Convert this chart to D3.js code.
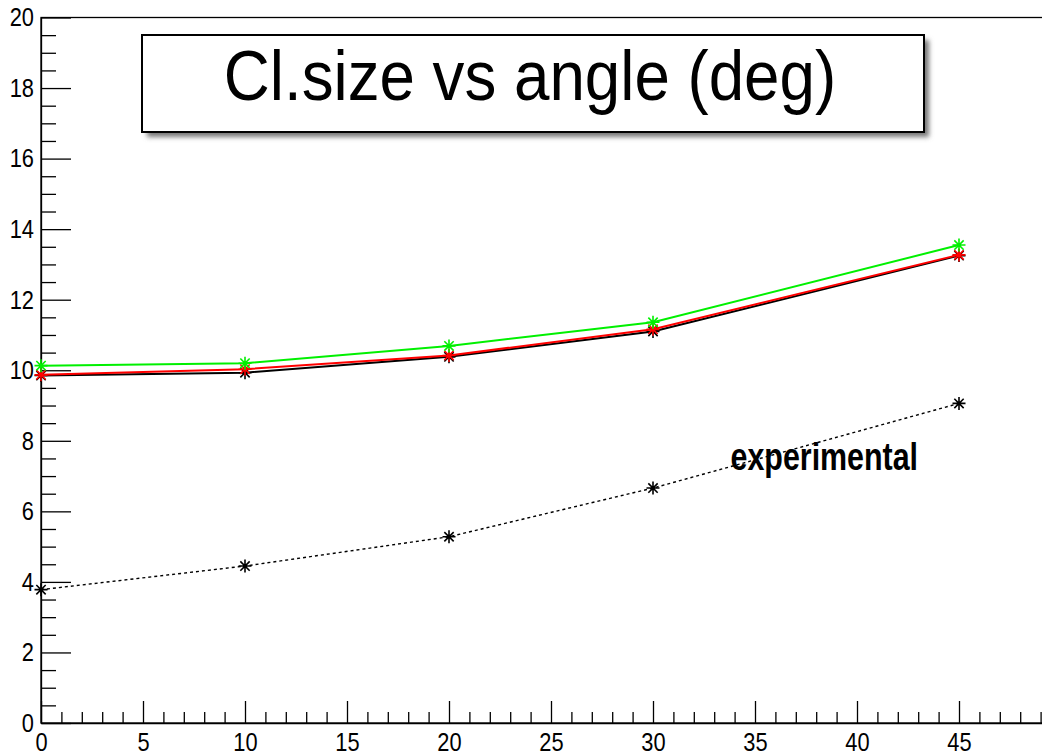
<!DOCTYPE html>
<html>
<head>
<meta charset="utf-8">
<script src="https://cdn.jsdelivr.net/npm/d3@7"></script>
<style>
  html, body { margin: 0; padding: 0; background: #fff; }
  svg { display: block; }
  text { font-family: "Liberation Sans", Arial, Helvetica, sans-serif; }
</style>
</head>
<body>
<svg id="chart" width="1042" height="755"></svg>
<script>
// Cluster size versus incidence angle
const angles = [0, 10, 20, 30, 45];
const simBlack = [9.85, 9.93, 10.38, 11.1, 13.25];
const simRed = [9.87, 10.03, 10.42, 11.16, 13.27];
const simGreen = [10.13, 10.2, 10.69, 11.36, 13.55];
const experimental = [3.78, 4.45, 5.28, 6.66, 9.06];

const xTickValues = [0, 5, 10, 15, 20, 25, 30, 35, 40, 45];
const yTickValues = [0, 2, 4, 6, 8, 10, 12, 14, 16, 18, 20];
const titleText = "Cl.size vs angle (deg)";
const noteText = "experimental";

const svg = d3.select("#chart");

const x = d3.scaleLinear().domain([0, 49.5]).range([41, 41 + 49.5 * 20.4]);
const y = d3.scaleLinear().domain([0, 20]).range([723, 17.5]);

// frame
svg.append("rect")
  .attr("x", x(0)).attr("y", y(20))
  .attr("width", x(49.5) - x(0)).attr("height", y(0) - y(20))
  .attr("fill", "none").attr("stroke", "#000").attr("stroke-width", 1.3);

// y axis: major ticks with labels, minor ticks every 0.5
const yMinor = d3.range(0, 20.001, 0.5).filter(v => Math.abs(v / 2 - Math.round(v / 2)) > 1e-6);
svg.append("g").attr("transform", `translate(${x(0)},0)`)
  .call(d3.axisLeft(y).tickValues(yMinor).tickSize(-15).tickSizeOuter(0).tickFormat(""))
  .call(g => g.select(".domain").remove());
const yAxisG = svg.append("g").attr("transform", `translate(${x(0)},0)`)
  .call(d3.axisLeft(y).tickValues(yTickValues).tickSize(-30).tickSizeOuter(0).tickPadding(7).tickFormat(d3.format("d")));

// x axis: major ticks every 5, minor every 1
const xMinor = d3.range(0, 50, 1).filter(v => v % 5 !== 0);
svg.append("g").attr("transform", `translate(0,${y(0)})`)
  .call(d3.axisBottom(x).tickValues(xMinor).tickSize(-11).tickSizeOuter(0).tickFormat(""))
  .call(g => g.select(".domain").remove());
const xAxisG = svg.append("g").attr("transform", `translate(0,${y(0)})`)
  .call(d3.axisBottom(x).tickValues(xTickValues).tickSize(-22).tickSizeOuter(0).tickPadding(10).tickFormat(d3.format("d")));

svg.selectAll(".tick line").attr("stroke", "#000").attr("stroke-width", 1.3);
svg.selectAll(".domain").attr("stroke", "#000").attr("stroke-width", 1.3);

// slightly condensed tick labels
yAxisG.selectAll(".tick text")
  .attr("font-size", 26).attr("fill", "#000")
  .attr("transform", "translate(-7,0) scale(0.84,1)").attr("x", 0);
xAxisG.selectAll(".tick text")
  .attr("font-size", 26).attr("fill", "#000")
  .attr("transform", "translate(0,10) scale(0.84,1)").attr("y", 0);

// graphs
const line = d3.line().x((d, i) => x(angles[i])).y(d => y(d));
const starPath = r => `M${-r},0L${r},0M0,${-r}L0,${r}M${-r*0.72},${-r*0.72}L${r*0.72},${r*0.72}M${-r*0.72},${r*0.72}L${r*0.72},${-r*0.72}`;

function drawGraph(values, color, width, dash) {
  const g = svg.append("g");
  g.append("path").datum(values)
    .attr("d", line)
    .attr("fill", "none").attr("stroke", color).attr("stroke-width", width)
    .attr("stroke-dasharray", dash || null);
  g.selectAll("path.mk").data(values).join("path").attr("class", "mk")
    .attr("transform", (d, i) => `translate(${x(angles[i])},${y(d)})`)
    .attr("d", starPath(6.5))
    .attr("stroke", color).attr("stroke-width", 1.6).attr("fill", "none");
}

drawGraph(experimental, "#000", 1.4, "3,3");
drawGraph(simBlack, "#000", 2);
drawGraph(simRed, "#ff0000", 2);
drawGraph(simGreen, "#00f000", 2);

// label beside the measured curve
svg.append("text")
  .attr("transform", `translate(${x(33.8)},${y(7.17)}) scale(0.8,1)`)
  .attr("font-size", 38).attr("font-weight", "bold").attr("fill", "#000")
  .text(noteText);

// title box with soft drop shadow
const defs = svg.append("defs");
defs.append("filter").attr("id", "shadowBlur").attr("x", "-10%").attr("y", "-20%").attr("width", "120%").attr("height", "150%")
  .append("feGaussianBlur").attr("stdDeviation", 2.5);
const box = { x0: 142, y0: 35, x1: 924, y1: 132 };
svg.append("rect")
  .attr("x", box.x0 + 5).attr("y", box.y0 + 5)
  .attr("width", box.x1 - box.x0).attr("height", box.y1 - box.y0)
  .attr("fill", "#777").attr("filter", "url(#shadowBlur)");
svg.append("rect")
  .attr("x", box.x0).attr("y", box.y0)
  .attr("width", box.x1 - box.x0).attr("height", box.y1 - box.y0)
  .attr("fill", "#fff").attr("stroke", "#000").attr("stroke-width", 2);
svg.append("text")
  .attr("transform", `translate(${(box.x0 + box.x1) / 2 - 3},100) scale(0.91,1)`)
  .attr("text-anchor", "middle").attr("font-size", 70).attr("fill", "#000")
  .text(titleText);
</script>
</body>
</html>
